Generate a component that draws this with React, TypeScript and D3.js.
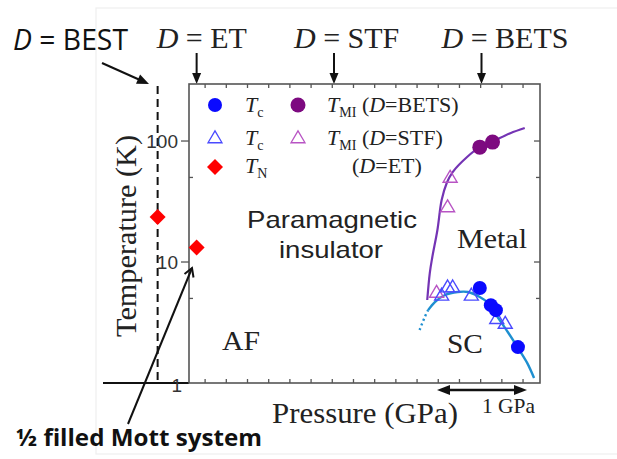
import React from 'react';
import * as d3 from 'd3';

const W = 617;
const H = 459;

// ---- data (pressure in GPa, temperature in K) ----
const tcBetsP = [3.24, 3.37, 3.43, 3.69];
const tcBetsT = [6.1, 4.4, 4.0, 1.98];
const tcStfP = [2.79, 2.86, 2.92, 3.14, 3.44, 3.54];
const tcStfT = [5.3, 6.2, 6.2, 5.3, 3.4, 3.1];
const tmiBetsP = [3.24, 3.39];
const tmiBetsT = [89, 98];
const tmiStfP = [2.73, 2.86, 2.89];
const tmiStfT = [5.6, 28.5, 50];
const tnP = [-0.56, -0.1];
const tnT = [23.5, 13.2];
const mitCurveP = [2.62, 2.65, 2.68, 2.74, 2.79, 2.85, 2.92, 3.09, 3.24, 3.4, 3.6, 3.77];
const mitCurveT = [4.85, 8.1, 11.0, 18.4, 32.5, 45, 55.4, 73.8, 89, 100, 116, 128];
const scDotP = [2.53, 2.59, 2.63];
const scDotT = [2.74, 3.5, 4.0];
const scCurveP = [2.63, 2.71, 2.83, 2.98, 3.1, 3.24, 3.34, 3.45, 3.57, 3.69, 3.8, 3.88];
const scCurveT = [4.0, 4.67, 5.34, 5.65, 5.65, 5.14, 4.58, 3.51, 2.64, 1.95, 1.46, 1.1];
const materials = ['ET', 'STF', 'BETS'];
const materialP = [-0.1, 1.52, 3.26];
const bestP = -0.56;
const xTicks = d3.range(0, 3.76, 0.25);
const yMajor = [10, 100];
const yMinor = [5, 50];
const yLabels = [1, 10, 100];

const C_BLUE = '#0a0aff';
const C_BLUE_OPEN = '#4a4aff';
const C_PURPLE = '#7d0a80';
const C_MAGENTA = '#b854c4';
const C_RED = '#ff0000';
const C_MIT = '#7434b4';
const C_SC = '#1e8fd0';

const SERIF = '"Liberation Serif", "Times New Roman", serif';
const SANS = '"Liberation Sans", Arial, sans-serif';
const CAL = '"Open Sans", "Noto Sans", sans-serif';

const x = d3.scaleLinear().domain([-0.19, 3.95]).range([189, 540]);
const y = d3.scaleLog().domain([1, 296]).range([383, 84]);

const zip = (ps: number[], ts: number[]) => ps.map((p, i) => [p, ts[i]] as [number, number]);

const smooth = d3
  .line<[number, number]>()
  .x((d) => x(d[0]))
  .y((d) => y(d[1]))
  .curve(d3.curveCatmullRom.alpha(0.5));

function triPath(cx: number, cy: number, s: number) {
  const h = s * 0.85;
  return `M${cx},${cy - h * 0.6}L${cx + s / 2},${cy + h * 0.4}L${cx - s / 2},${cy + h * 0.4}Z`;
}
function diamondPath(cx: number, cy: number, r: number) {
  return `M${cx},${cy - r}L${cx + r},${cy}L${cx},${cy + r}L${cx - r},${cy}Z`;
}
function headPath(tx: number, ty: number, fx: number, fy: number, L: number, w: number) {
  const dx = tx - fx;
  const dy = ty - fy;
  const len = Math.hypot(dx, dy);
  const ux = dx / len;
  const uy = dy / len;
  const bx = tx - ux * L;
  const by = ty - uy * L;
  return `M${tx},${ty}L${bx - uy * w},${by + ux * w}L${bx + uy * w},${by - ux * w}Z`;
}

const Tsub = ({ sub, xx, yy }: { sub: string; xx: number; yy: number }) => (
  <text x={xx} y={yy} fontFamily={SERIF} fontSize={22} fill="#222">
    <tspan fontStyle="italic">T</tspan>
    <tspan fontSize={14} dy={5}>
      {sub}
    </tspan>
  </text>
);

export default function App() {
  const [x0, x1] = x.range();
  const [yb, yt] = y.range();
  return (
    <svg
      width={W}
      height={H}
      viewBox={`0 0 ${W} ${H}`}
      style={{ position: 'absolute', left: 0, top: 0, background: '#fff' }}
    >
      {/* faint image border */}
      <rect x={96} y={8} width={540} height={446} fill="none" stroke="#efefef" strokeWidth={1.2} />

      {/* D = BEST */}
      <text x={13} y={50} fontFamily={CAL} fontSize={29} fill="#111" textLength={115} lengthAdjust="spacingAndGlyphs">
        <tspan fontStyle="italic">D</tspan> = BEST
      </text>
      <line x1={102} y1={63} x2={140} y2={80} stroke="#111" strokeWidth={2} />
      <path d={headPath(149, 84, 102, 63, 12, 5)} fill="#111" />

      {/* Material labels with arrows */}
      {materials.map((m, i) => {
        const ax = x(materialP[i]);
        return (
          <g key={m}>
            <text x={ax - 40} y={48} fontFamily={SERIF} fontSize={30} fill="#222">
              <tspan fontStyle="italic">D</tspan> = {m}
            </text>
            <line x1={ax} y1={53} x2={ax} y2={74} stroke="#111" strokeWidth={2} />
            <path d={headPath(ax, 84, ax, 53, 11, 4.5)} fill="#111" />
          </g>
        );
      })}

      {/* BEST dashed line */}
      <line x1={x(bestP)} y1={86} x2={x(bestP)} y2={yb} stroke="#111" strokeWidth={2} strokeDasharray="8,5" />
      {/* black baseline to the left */}
      <line x1={103} y1={yb} x2={x0} y2={yb} stroke="#111" strokeWidth={2} />

      {/* frame */}
      <rect x={x0} y={yt} width={x1 - x0} height={yb - yt} fill="none" stroke="#555" strokeWidth={1.6} />

      {/* x ticks */}
      {xTicks.map((t) => (
        <g key={t}>
          <line x1={x(t)} x2={x(t)} y1={yb} y2={yb - 4} stroke="#555" strokeWidth={1.3} />
          <line x1={x(t)} x2={x(t)} y1={yt} y2={yt + 4} stroke="#555" strokeWidth={1.3} />
        </g>
      ))}
      {/* y ticks */}
      {yMajor.map((t) => (
        <g key={'M' + t}>
          <line x1={x0} x2={x0 - 8} y1={y(t)} y2={y(t)} stroke="#555" strokeWidth={1.3} />
          <line x1={x1} x2={x1 - 6} y1={y(t)} y2={y(t)} stroke="#555" strokeWidth={1.3} />
        </g>
      ))}
      {yMinor.map((t) => (
        <g key={'m' + t}>
          <line x1={x0} x2={x0 + 4} y1={y(t)} y2={y(t)} stroke="#555" strokeWidth={1.3} />
          <line x1={x1} x2={x1 - 4} y1={y(t)} y2={y(t)} stroke="#555" strokeWidth={1.3} />
        </g>
      ))}
      {yLabels.map((t) => (
        <text
          key={'l' + t}
          x={t === 1 ? 182 : 178}
          y={y(t) + (t === 1 ? 9 : 7)}
          textAnchor="end"
          fontFamily={SANS}
          fontSize={19}
          fill="#333"
        >
          {t}
        </text>
      ))}

      {/* axis titles */}
      <text
        transform={`translate(136,236) rotate(-90)`}
        textAnchor="middle"
        fontFamily={SERIF}
        fontSize={30}
        fill="#222"
        textLength={202}
        lengthAdjust="spacingAndGlyphs"
      >
        Temperature (K)
      </text>
      <text x={272} y={423} fontFamily={SERIF} fontSize={30} fill="#222" textLength={186} lengthAdjust="spacingAndGlyphs">
        Pressure (GPa)
      </text>

      {/* 1 GPa scale arrow */}
      <line x1={447} y1={390} x2={517} y2={390} stroke="#111" strokeWidth={2.5} />
      <path d={headPath(437, 390, 527, 390, 13, 5)} fill="#111" />
      <path d={headPath(527, 390, 437, 390, 13, 5)} fill="#111" />
      <text x={482} y={413} fontFamily={SERIF} fontSize={22} fill="#222" textLength={53} lengthAdjust="spacingAndGlyphs">
        1 GPa
      </text>

      {/* region labels */}
      <text x={247} y={228} fontFamily={SANS} fontSize={24} fill="#222" textLength={170} lengthAdjust="spacingAndGlyphs">
        Paramagnetic
      </text>
      <text x={279} y={258} fontFamily={SANS} fontSize={24} fill="#222" textLength={104} lengthAdjust="spacingAndGlyphs">
        insulator
      </text>
      <text x={222} y={350} fontFamily={SERIF} fontSize={27} fill="#222" textLength={38} lengthAdjust="spacingAndGlyphs">
        AF
      </text>
      <text x={447} y={353} fontFamily={SERIF} fontSize={27} fill="#222" textLength={36} lengthAdjust="spacingAndGlyphs">
        SC
      </text>
      <text x={457} y={248} fontFamily={SERIF} fontSize={27} fill="#222" textLength={70} lengthAdjust="spacingAndGlyphs">
        Metal
      </text>

      {/* legend */}
      <circle cx={215} cy={105} r={7} fill={C_BLUE} />
      <Tsub sub="c" xx={245} yy={112} />
      <circle cx={298} cy={105} r={7.5} fill={C_PURPLE} />
      <text x={327} y={112} fontFamily={SERIF} fontSize={22} fill="#222">
        <tspan fontStyle="italic">T</tspan>
        <tspan fontSize={14} dy={5}>MI</tspan>
        <tspan dy={-5}> (</tspan>
        <tspan fontStyle="italic">D</tspan>=BETS)
      </text>
      <path d={triPath(215, 138, 14)} fill="none" stroke={C_BLUE_OPEN} strokeWidth={1.3} />
      <Tsub sub="c" xx={245} yy={145} />
      <path d={triPath(298, 138, 14)} fill="none" stroke={C_MAGENTA} strokeWidth={1.3} />
      <text x={327} y={145} fontFamily={SERIF} fontSize={22} fill="#222">
        <tspan fontStyle="italic">T</tspan>
        <tspan fontSize={14} dy={5}>MI</tspan>
        <tspan dy={-5}> (</tspan>
        <tspan fontStyle="italic">D</tspan>=STF)
      </text>
      <path d={diamondPath(215, 167, 8)} fill={C_RED} />
      <Tsub sub="N" xx={245} yy={173} />
      <text x={352} y={173} fontFamily={SERIF} fontSize={22} fill="#222">
        (<tspan fontStyle="italic">D</tspan>=ET)
      </text>

      {/* curves */}
      <path d={smooth(zip(mitCurveP, mitCurveT)) || ''} fill="none" stroke={C_MIT} strokeWidth={2.2} />
      <path d={smooth(zip(scDotP, scDotT)) || ''} fill="none" stroke={C_SC} strokeWidth={2.4} strokeDasharray="2,3" />
      <path d={smooth(zip(scCurveP, scCurveT)) || ''} fill="none" stroke={C_SC} strokeWidth={2.4} />

      {/* markers */}
      {zip(tmiStfP, tmiStfT).map((d, i) => (
        <path key={'ms' + i} d={triPath(x(d[0]), y(d[1]), 14)} fill="none" stroke={C_MAGENTA} strokeWidth={1.4} />
      ))}
      {zip(tcStfP, tcStfT).map((d, i) => (
        <path key={'ts' + i} d={triPath(x(d[0]), y(d[1]), 14)} fill="none" stroke={C_BLUE_OPEN} strokeWidth={1.4} />
      ))}
      {zip(tmiBetsP, tmiBetsT).map((d, i) => (
        <circle key={'mb' + i} cx={x(d[0])} cy={y(d[1])} r={7.5} fill={C_PURPLE} />
      ))}
      {zip(tcBetsP, tcBetsT).map((d, i) => (
        <circle key={'tb' + i} cx={x(d[0])} cy={y(d[1])} r={7} fill={C_BLUE} />
      ))}
      {zip(tnP, tnT).map((d, i) => (
        <path key={'tn' + i} d={diamondPath(x(d[0]), y(d[1]), 8)} fill={C_RED} />
      ))}

      {/* Mott annotation */}
      <line x1={128} y1={424} x2={192} y2={268} stroke="#111" strokeWidth={2} />
      <path d="M184.5,274 L192,268 L193.5,277.5" fill="none" stroke="#111" strokeWidth={2} />
      <text x={16} y={446} fontFamily={CAL} fontWeight="bold" fontSize={23} fill="#111" textLength={246} lengthAdjust="spacingAndGlyphs">
        ½ filled Mott system
      </text>
    </svg>
  );
}
